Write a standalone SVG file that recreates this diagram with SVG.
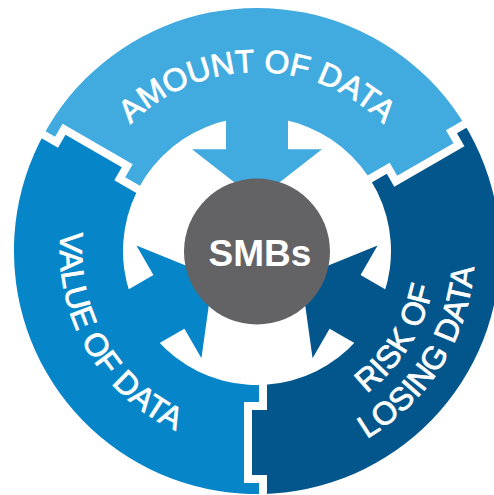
<svg xmlns="http://www.w3.org/2000/svg" width="494" height="495" viewBox="0 0 494 495">
<style>
.amount{fill:#41abdf}
.value{fill:#0685c8}
.risk{fill:#03568b}
.lbl{font-family:"Liberation Sans",Arial,sans-serif;font-size:32px;fill:#fff;stroke:#fff;stroke-width:0.8}
.div{fill:none;stroke:#fff;stroke-width:8}
</style>
<defs>
<clipPath id="ring"><path clip-rule="evenodd" d="M243,0 A243,243 0 1,1 -243,0 A243,243 0 1,1 243,0 Z M134,0 A134,134 0 1,0 -134,0 A134,134 0 1,0 134,0 Z"/></clipPath>
<polygon id="seg" points="-3,5.2 -137.23,-72.3 -129.73,-85.29 -192.95,-121.79 -200.45,-108.8 -262.81,-144.8 0,-600 256.81,-155.2 194.45,-119.2 201.95,-106.21 138.73,-69.71 131.23,-82.7 -3,-5.2"/>
<polygon id="arrow" points="-31,-142 31,-142 31,-101.7 65,-101.7 0,-51 -65,-101.7 -31,-101.7"/>
<polyline id="divider" points="6,125 6,155 -9,155 -9,228 6,228 6,262"/>
<path id="pAmount" d="M78,251 A179,179 0 0 1 436,251"/>
<path id="pValue" d="M86.39,152.5 A197,197 0 0 0 257,448"/>
<path id="pRisk1" d="M250.72,430.49 A179.5,179.5 0 0 0 415.49,166.73"/>
<path id="pRisk2" d="M249.4,468.37 A217.5,217.5 0 0 0 449.03,148.89"/>
</defs>

<g id="amount-of-data">
<use href="#seg" class="amount" clip-path="url(#ring)" transform="translate(257,251)"/>
<text class="lbl" text-anchor="middle"><textPath href="#pAmount" startOffset="50%">AMOUNT OF DATA</textPath></text>
</g>
<g id="value-of-data">
<use href="#seg" class="value" clip-path="url(#ring)" transform="translate(257,251) rotate(-120)"/>
<text class="lbl" text-anchor="middle"><textPath href="#pValue" startOffset="50%">VALUE OF DATA</textPath></text>
</g>
<g id="risk-of-losing-data">
<use href="#seg" class="risk" clip-path="url(#ring)" transform="translate(257,251) rotate(120)"/>
<text class="lbl" text-anchor="middle"><textPath href="#pRisk1" startOffset="50%">RISK OF</textPath></text>
<text class="lbl" text-anchor="middle"><textPath href="#pRisk2" startOffset="50%">LOSING DATA</textPath></text>
</g>

<g id="dividers" class="div">
<use href="#divider" transform="translate(257,251)"/>
<use href="#divider" transform="translate(257,251) rotate(120)"/>
<use href="#divider" transform="translate(257,251) rotate(240)"/>
</g>

<g id="connectors">
<use href="#arrow" class="amount" transform="translate(257,251)"/>
<use href="#arrow" class="value" transform="translate(257,251) rotate(-120)"/>
<use href="#arrow" class="risk" transform="translate(257,251) rotate(120)"/>
</g>

<g id="smbs">
<circle cx="257" cy="251.5" r="73" fill="#636366"/>
<text x="260" y="265.5" text-anchor="middle" font-family="'Liberation Sans',Arial,sans-serif" font-weight="bold" font-size="37" fill="#fff">SMBs</text>
</g>
</svg>
